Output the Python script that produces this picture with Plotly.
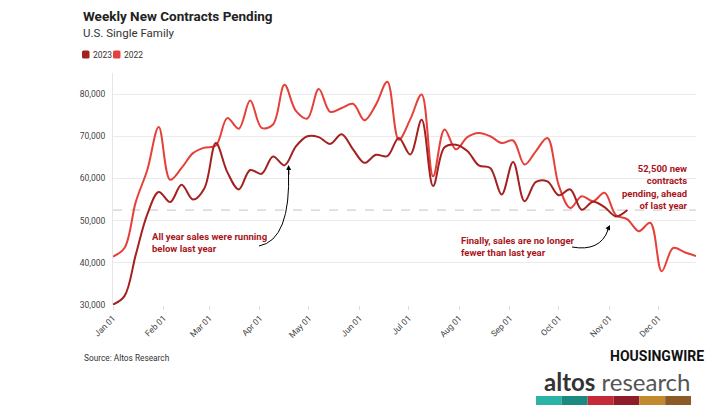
import datetime as dt
import plotly.graph_objects as go

# ---------------- data ----------------
series_names = ["2023", "2022"]
start_date = "2023-01-01"          # both years plotted on the same day-of-year axis
week_step_days = 7

contracts_2023 = [30100, 32100, 42000, 51500, 56800, 54400, 58500, 55000, 57700, 68400,
                  61500, 57400, 62000, 61100, 65200, 63100, 67600, 70000, 69800, 68200,
                  70500, 66900, 63700, 65600, 65300, 69600, 65700, 73900, 58200, 67400,
                  68000, 66500, 63100, 62500, 56200, 63900, 54600, 59200, 59300, 56000,
                  57400, 52600, 54500, 53200, 51000, 52500]

contracts_2022 = [41500, 43500, 54500, 62000, 72200, 59700, 62500, 66000, 67300, 67800,
                  74300, 71800, 78500, 72000, 72800, 82200, 76000, 74200, 81200, 75800,
                  76700, 77700, 73800, 77500, 82900, 69200, 74000, 79900, 60500, 71600,
                  66900, 69800, 70800, 70000, 68400, 69000, 63300, 66500, 69600, 58300,
                  53000, 55800, 54600, 56600, 51300, 50300, 47500, 49500, 38000, 43500,
                  42500, 41600]

reference_level = 52500
y_ticks = [30000, 40000, 50000, 60000, 70000, 80000]
y_range = [30000, 85000]

title = "Weekly New Contracts Pending"
subtitle = "U.S. Single Family"
note_left = "All year sales were running<br>below last year"
note_mid = "Finally, sales are no longer<br>fewer than last year"
note_right = "52,500 new<br>contracts<br>pending, ahead<br>of last year"
source = "Source: Altos Research"

# ---------------- styles ----------------
C2023 = "#a3221f"
C2022 = "#e6403a"
NOTE = "#a8151c"
GRID = "#ebebeb"
TICK = "#444444"
FONT = "Roboto"

base = dt.date.fromisoformat(start_date)
dates23 = [base + dt.timedelta(days=week_step_days * i) for i in range(len(contracts_2023))]
dates22 = [base + dt.timedelta(days=week_step_days * i) for i in range(len(contracts_2022))]

fig = go.Figure()
fig.add_trace(go.Scatter(x=dates22, y=contracts_2022, mode="lines", name=series_names[1],
                         line=dict(color=C2022, width=2, shape="spline", smoothing=1.0),
                         hoverinfo="skip"))
fig.add_trace(go.Scatter(x=dates23, y=contracts_2023, mode="lines", name=series_names[0],
                         line=dict(color=C2023, width=2, shape="spline", smoothing=1.0),
                         hoverinfo="skip"))

# plot area in pixels
L, R, T, B = 113, 696, 73, 305
W, H = R - L, B - T


def PX(x):
    return (x - L) / W


def PY(y):
    return (B - y) / H


fig.update_layout(
    width=720, height=405,
    margin=dict(l=L, r=720 - R, t=T, b=405 - B),
    paper_bgcolor="white", plot_bgcolor="white",
    showlegend=False,
    font=dict(family=FONT, color=TICK, size=9),
)
fig.update_xaxes(
    type="date", tickformat="%b %d", dtick="M1", tick0=start_date,
    tickangle=-45, tickfont=dict(size=8.5, color=TICK, family=FONT),
    showgrid=False, ticks="outside", ticklen=4, tickcolor="#dddddd",
    showline=False, zeroline=False,
)
fig.update_yaxes(
    range=y_range, tickvals=y_ticks, tickformat=",",
    tickfont=dict(size=8.5, color=TICK, family=FONT),
    showgrid=True, gridcolor=GRID, gridwidth=1,
    showline=True, linecolor="#e6e6e6", linewidth=1,
    zeroline=False, ticks="", ticklabelstandoff=5,
)

shapes = []
# dashed reference line
shapes.append(dict(type="line", xref="paper", yref="y", x0=0, x1=1,
                   y0=reference_level, y1=reference_level,
                   line=dict(color="#c4c4c4", width=1, dash="dash"), layer="below"))


def rounded(x0, y0, x1, y1, r=1.5):
    return (f"M {PX(x0 + r)},{PY(y0)} L {PX(x1 - r)},{PY(y0)} Q {PX(x1)},{PY(y0)} {PX(x1)},{PY(y0 + r)} "
            f"L {PX(x1)},{PY(y1 - r)} Q {PX(x1)},{PY(y1)} {PX(x1 - r)},{PY(y1)} "
            f"L {PX(x0 + r)},{PY(y1)} Q {PX(x0)},{PY(y1)} {PX(x0)},{PY(y1 - r)} "
            f"L {PX(x0)},{PY(y0 + r)} Q {PX(x0)},{PY(y0)} {PX(x0 + r)},{PY(y0)} Z")


# legend swatches
for (x0, c) in [(82, C2023), (113, C2022)]:
    shapes.append(dict(type="path", xref="paper", yref="paper",
                       path=rounded(x0, 50.5, x0 + 7.5, 58.5),
                       fillcolor=c, line=dict(width=0)))


def curve(x0, y0, cx, cy, x1, y1):
    return (f"M {PX(x0)},{PY(y0)} Q {PX(cx)},{PY(cy)} {PX(x1)},{PY(y1)}")


shapes.append(dict(type="path", xref="paper", yref="paper",
                   path=curve(259, 246, 291, 240, 288.5, 170),
                   line=dict(color="black", width=1)))
shapes.append(dict(type="path", xref="paper", yref="paper",
                   path=curve(572, 247, 600, 252, 608, 230),
                   line=dict(color="black", width=1)))

# logo colour bar
bar_cols = ["#2bb3a6", "#1d8a81", "#c42a37", "#8e1c29", "#c28a2f", "#8b5a26"]
bx0, bx1 = 536, 691
bw = (bx1 - bx0) / len(bar_cols)
for i, c in enumerate(bar_cols):
    shapes.append(dict(type="rect", xref="paper", yref="paper",
                       x0=PX(bx0 + i * bw), x1=PX(bx0 + (i + 1) * bw),
                       y0=PY(405), y1=PY(396), fillcolor=c, line=dict(width=0)))

fig.update_layout(shapes=shapes)

ann = []


def text(x, y, s, size, color="#222", family=FONT, xanchor="left", yanchor="middle",
         align="left", **kw):
    ann.append(dict(xref="paper", yref="paper", x=PX(x), y=PY(y), text=s, showarrow=False,
                    xanchor=xanchor, yanchor=yanchor, align=align,
                    font=dict(size=size, color=color, family=family), **kw))


text(81, 16, f"<b>{title}</b>", 13.5, color="#222")
text(81, 33, subtitle, 11.5, color="#333")
text(90.5, 54.5, series_names[0], 8.5, color="#333")
text(121.5, 54.5, series_names[1], 8.5, color="#333")

text(150, 242, f"<b>{note_left}</b>", 9.5, color=NOTE)
text(459, 246.5, f"<b>{note_mid}</b>", 9.5, color=NOTE)
text(690, 187, f"<b>{note_right}</b>", 9.5, color=NOTE, xanchor="right", align="right")

text(82, 358, source, 8.3, color="#333")
text(706, 356, "<b>HOUSINGWIRE</b>", 14, color="#111", xanchor="right")
text(692, 381, "<span style='color:#333'><b>altos</b></span> <span style='color:#555'>research</span>",
     24, color="#444", family="Lato", xanchor="right")

# arrowheads (short arrows at the curve ends); ax/ay are pixel offsets of the tail
for (x1, y1, dx, dy) in [(288.5, 165, 0.5, 11), (610, 225, -3.5, 7)]:
    ann.append(dict(xref="paper", yref="paper",
                    x=PX(x1), y=PY(y1), ax=dx, ay=dy, text="",
                    showarrow=True, arrowhead=2, arrowsize=1, arrowwidth=1,
                    arrowcolor="black", standoff=0))

fig.update_layout(annotations=ann)
fig.write_html("out.html")
